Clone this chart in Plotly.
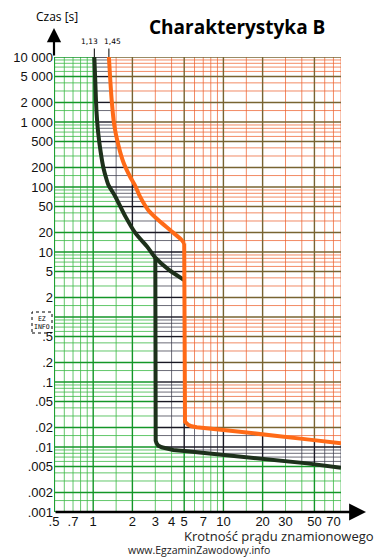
import numpy as np
import plotly.graph_objects as go

# ---------------- data ----------------
x_tick_vals = [0.5, 0.7, 1, 2, 3, 4, 5, 7, 10, 20, 30, 50, 70]
x_tick_text = [".5", ".7", "1", "2", "3", "4", "5", "7", "10", "20", "30", "50", "70"]
y_tick_vals = [10000, 5000, 2000, 1000, 500, 200, 100, 50, 20, 10, 5, 2,
               0.5, 0.2, 0.1, 0.05, 0.02, 0.01, 0.005, 0.002, 0.001]
y_tick_text = ["10 000", "5 000", "2 000", "1 000", "500", "200", "100", "50", "20",
               "10", "5", "2", ".5", ".2", ".1", ".05", ".02", ".01", ".005", ".002", ".001"]

# black (dark) curve - upper thermal part
black_upper_x = [1.02, 1.04, 1.06, 1.09, 1.14, 1.20, 1.27, 1.31, 1.48, 1.77, 2.11, 2.6, 3.0, 3.82, 5.0]
black_upper_y = [10000, 3700, 1440, 710, 350, 194, 128, 107, 71, 35, 19.5, 12, 8.2, 5.3, 3.7]
# black curve - magnetic part (vertical at 3 and tail)
black_lower_x = [3.0, 3.0, 3.02, 3.07, 3.16, 3.36, 3.66, 4.12, 5.53, 10, 16, 24, 44, 80]
black_lower_y = [8.2, 0.0144, 0.0125, 0.0114, 0.0105, 0.0099, 0.0094, 0.0090, 0.0085,
                 0.0076, 0.0069, 0.0064, 0.0056, 0.0048]

# orange curve - upper thermal part
orange_upper_x = [1.32, 1.35, 1.39, 1.45, 1.56, 1.70, 1.92, 2.09, 2.29, 2.65, 3.16, 3.89, 4.78, 5.0]
orange_upper_y = [10000, 4700, 2050, 900, 443, 245, 144, 107, 71, 44, 31, 21.8, 15.3, 13.6]
# orange curve - magnetic part (vertical at 5 and tail)
orange_lower_x = [5.0, 5.0, 5.07, 5.23, 5.37, 5.70, 6.24, 10, 13.4, 24, 44, 80]
orange_lower_y = [13.6, 0.026, 0.0245, 0.0231, 0.0219, 0.0208, 0.0201, 0.0183, 0.0172,
                  0.0153, 0.0131, 0.0114]

grid_x_lines = [0.5, 0.6, 0.7, 0.8, 0.9, 1, 1.5, 2, 3, 4, 5, 6, 7, 8, 9, 10, 15, 20, 30, 40,
                50, 60, 70, 80]
grid_mantissas = [1, 1.5, 2, 3, 4, 5, 6, 7, 8, 9]
major_mantissas = [1, 2, 5]

X_MIN, X_MAX = 0.5, 80
Y_MIN, Y_MAX = 0.001, 10000

# ---------------- region polygons (log space) ----------------
L = np.log10


def poly(points):
    return np.array([[L(a), L(b)] for a, b in points])


green_pts = [(0.1, 1e5), (black_upper_x[0], 1e5)]
green_pts += [(a, b) for a, b in zip(black_upper_x, black_upper_y) if a <= 3.0]
green_pts += list(zip(black_lower_x[1:], black_lower_y[1:]))
green_pts += [(1000, black_lower_y[-1]), (1000, 1e-5), (0.1, 1e-5)]
green_poly = poly(green_pts)

orange_pts = [(orange_upper_x[0], 1e5)] + list(zip(orange_upper_x, orange_upper_y))
orange_pts += list(zip(orange_lower_x[1:], orange_lower_y[1:]))
orange_pts += [(1000, orange_lower_y[-1]), (1000, 1e5)]
orange_poly = poly(orange_pts)


def inside(px, py, pg):
    res = np.zeros(px.shape, bool)
    n = len(pg)
    j = n - 1
    for i in range(n):
        xi, yi = pg[i]
        xj, yj = pg[j]
        den = (yj - yi) if yj != yi else 1.0
        cond = ((yi > py) != (yj > py)) & (px < (xj - xi) * (py - yi) / den + xi)
        res ^= cond
        j = i
    return res


def classify(px, py):
    c = np.full(px.shape, 1)  # 1 = black region
    g = inside(px, py, green_poly)
    o = inside(px, py, orange_poly)
    c[o] = 2
    c[g] = 0
    return c


segs = {(r, m): ([], []) for r in range(3) for m in (False, True)}


def add_line(fixed, vertical, major):
    n = 700
    if vertical:
        t = np.linspace(L(Y_MIN), L(Y_MAX), n)
        px = np.full(n, L(fixed))
        py = t
    else:
        t = np.linspace(L(X_MIN), L(X_MAX), n)
        px = t
        py = np.full(n, L(fixed))
    c = classify(px, py)
    start = 0
    for k in range(1, n + 1):
        if k == n or c[k] != c[start]:
            a = t[start] if start == 0 else 0.5 * (t[start] + t[start - 1])
            b = t[k - 1] if k == n else 0.5 * (t[k] + t[k - 1])
            xs, ys = segs[(int(c[start]), major)]
            if vertical:
                xs += [fixed, fixed, None]
                ys += [10 ** a, 10 ** b, None]
            else:
                xs += [10 ** a, 10 ** b, None]
                ys += [fixed, fixed, None]
            start = k


def is_major(v):
    m = v / 10 ** np.floor(np.log10(v) + 1e-9)
    return any(abs(m - mm) < 1e-6 for mm in major_mantissas)


for gx in grid_x_lines:
    add_line(gx, True, is_major(gx))
for e in range(-3, 4):
    for m in grid_mantissas:
        add_line(m * 10 ** e, False, m in major_mantissas)
add_line(10000, False, True)

colors = {
    (0, False): "rgba(60,185,70,0.8)", (0, True): "rgb(20,150,40)",
    (1, False): "rgba(60,60,75,0.75)", (1, True): "rgb(25,25,35)",
    (2, False): "rgba(238,100,50,0.75)", (2, True): "rgb(120,100,50)",
}
widths = {False: 1, True: 1.4}

fig = go.Figure()
for major in (False, True):
    for r in range(3):
        xs, ys = segs[(r, major)]
        fig.add_trace(go.Scatter(x=xs, y=ys, mode="lines",
                                 line=dict(color=colors[(r, major)], width=widths[major]),
                                 hoverinfo="skip", showlegend=False))

# left green border line
fig.add_trace(go.Scatter(x=[X_MIN, X_MIN], y=[Y_MIN, Y_MAX], mode="lines",
                         line=dict(color="rgb(30,160,50)", width=2.2),
                         hoverinfo="skip", showlegend=False))

curve_dark = "#1d301b"
curve_orange = "#ff6a17"
for cx, cy, col, smooth in ((black_upper_x, black_upper_y, curve_dark, True),
                            (black_lower_x, black_lower_y, curve_dark, False),
                            (orange_upper_x, orange_upper_y, curve_orange, True),
                            (orange_lower_x, orange_lower_y, curve_orange, False)):
    line = dict(color=col, width=4)
    if smooth:
        line.update(shape="spline", smoothing=0.7)
    fig.add_trace(go.Scatter(x=cx, y=cy, mode="lines", line=line,
                             hoverinfo="skip", showlegend=False))

# page body has an 8px margin: shrink the figure so it fits the window exactly
OFF = 8
W, H = 384 - OFF, 557 - OFF
ml, mr, mt, mb = 54 - OFF, 43, 57 - OFF, 45
pw, ph = W - ml - mr, H - mt - mb


def px2paper(xp, yp):
    """Convert a window pixel position into paper coordinates."""
    return (xp - OFF - ml) / pw, (H - mb - (yp - OFF)) / ph


tick_font = dict(family="Liberation Sans, Arial, sans-serif", size=13, color="#111")
fig.update_layout(
    width=W, height=H, autosize=False,
    margin=dict(l=ml, r=mr, t=mt, b=mb, autoexpand=False),
    paper_bgcolor="white", plot_bgcolor="white",
    showlegend=False,
    xaxis=dict(type="log", range=[L(X_MIN), L(X_MAX)], showgrid=False, zeroline=False,
               showline=False, tickvals=x_tick_vals, ticktext=x_tick_text, ticks="",
               tickfont=tick_font, fixedrange=True, automargin=False),
    yaxis=dict(type="log", range=[L(Y_MIN), L(Y_MAX)], showgrid=False, zeroline=False,
               showline=False, tickvals=y_tick_vals, ticktext=y_tick_text, ticks="",
               tickfont=tick_font, fixedrange=True, ticklabelstandoff=0, automargin=False),
)

ann = []
# x-axis arrow
tx, _ = px2paper(366, 512)
ann.append(dict(xref="paper", yref="paper", x=tx, y=0, ax=-(366 - 54), ay=0, text="",
                showarrow=True, arrowhead=2, arrowsize=1.3, arrowwidth=2.6, arrowcolor="black"))
# y-axis arrow
_, ty = px2paper(54, 28)
ann.append(dict(xref="paper", yref="paper", x=0, y=ty, ax=0, ay=57 - 28, text="",
                showarrow=True, arrowhead=2, arrowsize=1.3, arrowwidth=2.2, arrowcolor="black"))
# title
tx, ty = px2paper(237, 27)
ann.append(dict(xref="paper", yref="paper", x=tx, y=ty, text="<b>Charakterystyka B</b>",
                showarrow=False, xanchor="center", yanchor="middle",
                font=dict(family="Open Sans, sans-serif", size=19, color="black")))
# y label
tx, ty = px2paper(57, 16)
ann.append(dict(xref="paper", yref="paper", x=tx, y=ty, text="Czas [s]", showarrow=False,
                xanchor="center", yanchor="middle",
                font=dict(family="Open Sans, sans-serif", size=12, color="black")))
# x label
tx, ty = px2paper(279, 536)
ann.append(dict(xref="paper", yref="paper", x=tx, y=ty, text="Krotność prądu znamionowego",
                showarrow=False, xanchor="center", yanchor="middle",
                font=dict(family="Open Sans, sans-serif", size=13, color="#222")))
# watermark
tx, ty = px2paper(199, 550)
ann.append(dict(xref="paper", yref="paper", x=tx, y=ty, text="www.EgzaminZawodowy.info",
                showarrow=False, xanchor="center", yanchor="middle",
                font=dict(family="Open Sans, sans-serif", size=10.5, color="#222")))
# 1,13 and 1,45 markers: short vertical tick + label
_, label_y = px2paper(0, 42)
for xv, label, shift in ((black_upper_x[0], "1,13", -5), (orange_upper_x[0], "1,45", 4)):
    ann.append(dict(xref="x", yref="y", x=L(xv), y=L(Y_MAX), ax=0, ay=-10, text="",
                    showarrow=True, arrowhead=0, arrowwidth=1, arrowcolor="black"))
    ann.append(dict(xref="x", yref="paper", x=L(xv), y=label_y, xshift=shift, text=label,
                    showarrow=False, xanchor="center", yanchor="middle",
                    font=dict(family="DejaVu Sans, sans-serif", size=7.5, color="black")))
# EZ INFO icon in place of the "1" label
x0, y0 = px2paper(32, 333)
x1, y1 = px2paper(52, 312)
fig.add_shape(type="rect", xref="paper", yref="paper", x0=x0, y0=y0, x1=x1, y1=y1,
              line=dict(color="black", width=1, dash="dot"))
ann.append(dict(xref="paper", yref="paper", x=(x0 + x1) / 2, y=(y0 + y1) / 2,
                text="EZ<br>INFO", showarrow=False, xanchor="center", yanchor="middle",
                font=dict(family="DejaVu Sans Mono, monospace", size=6.5, color="black")))
fig.update_layout(annotations=ann)

fig.write_html("out.html")
